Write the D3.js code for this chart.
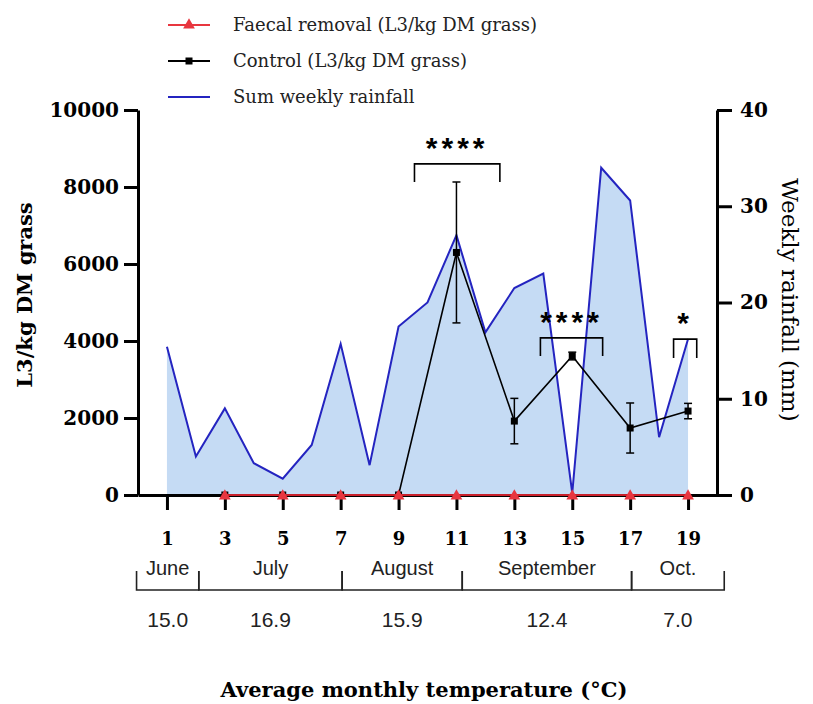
<!DOCTYPE html>
<html>
<head>
<meta charset="utf-8">
<script src="https://cdn.jsdelivr.net/npm/d3@7/dist/d3.min.js"></script>
<style>
body { margin: 0; background: #fff; }
.serif { font-family: "DejaVu Serif", serif; }
.sans { font-family: "Liberation Sans", Arial, sans-serif; }
</style>
</head>
<body>
<div class="main"></div>
<script>
// weekly rainfall, weeks 1..19 (mm)
var rainWeeks = d3.range(1, 20);
var rainfall = [15.4, 4.0, 9.0, 3.3, 1.7, 5.2, 15.7, 3.1, 17.5, 20.0, 27.0, 16.9, 21.5, 23.0, 0.2, 34.0, 30.6, 6.0, 16.2];

// L3 counts, sampled every second week
var sampleWeeks = [3, 5, 7, 9, 11, 13, 15, 17, 19];
var faecal = [0, 0, 0, 0, 0, 0, 0, 0, 0];
var control = [0, 0, 0, 0, 6300, 1920, 3610, 1740, 2180];
var controlErr = [0, 0, 0, 0, 1830, 590, 100, 650, 200];

var xTicks = [1, 3, 5, 7, 9, 11, 13, 15, 17, 19];
var leftTicks = [0, 2000, 4000, 6000, 8000, 10000];
var rightTicks = [0, 10, 20, 30, 40];

// month brackets under the axis (in week units) + average temperatures
var months = ["June", "July", "August", "September", "Oct."];
var monthBounds = [-0.05, 2.1, 7.05, 11.2, 17.05, 20.25];
var monthTemps = ["15.0", "16.9", "15.9", "12.4", "7.0"];

// significance brackets
var sigLabels = ["****", "****", "*"];
var sigFrom = [9.55, 13.9, 18.5];
var sigTo = [12.5, 16.05, 19.3];
var sigTop = [8600, 4080, 4050];
var sigFoot = [8130, 3610, 3560];

var legendLabels = ["Faecal removal (L3/kg DM grass)", "Control (L3/kg DM grass)", "Sum weekly rainfall"];

//canvas config
var margin = {top: 110, right: 96, bottom: 209, left: 138};
var width = 813 - margin.left - margin.right;
var height = 704 - margin.top - margin.bottom;

var red = "#e8363f", blue = "#2424c0", fillBlue = "#c5dbf4";

var svg = d3.select(".main")
	.append("svg")
	.attr("width", 813)
	.attr("height", 704);
var g = svg.append("g")
	.attr("transform", "translate(" + margin.left + "," + margin.top + ")");

var xScale = d3.scaleLinear().domain([0, 20]).range([0, width]);
var yScale = d3.scaleLinear().domain([0, 10000]).range([height, 0]);
var yRain = d3.scaleLinear().domain([0, 40]).range([height, 0]);

//rainfall area + line
var rainData = rainWeeks.map(function(w, i) { return {w: w, v: rainfall[i]}; });
g.append("path")
	.datum(rainData)
	.attr("fill", fillBlue)
	.attr("d", d3.area()
		.x(function(d) { return xScale(d.w); })
		.y0(height)
		.y1(function(d) { return yRain(d.v); }));
g.append("path")
	.datum(rainData)
	.attr("fill", "none")
	.attr("stroke", blue)
	.attr("stroke-width", 2)
	.attr("d", d3.line()
		.x(function(d) { return xScale(d.w); })
		.y(function(d) { return yRain(d.v); }));

//axes
var xAxis = d3.axisBottom(xScale).tickValues(xTicks).tickSize(15).tickSizeOuter(0).tickPadding(22);
var yAxis = d3.axisLeft(yScale).tickValues(leftTicks).tickFormat(d3.format("d")).tickSize(14).tickSizeOuter(0).tickPadding(5);
var yAxisR = d3.axisRight(yRain).tickValues(rightTicks).tickSize(15).tickSizeOuter(0).tickPadding(8);

var gx = g.append("g").attr("transform", "translate(0," + height + ")").call(xAxis);
var gy = g.append("g").call(yAxis);
var gr = g.append("g").attr("transform", "translate(" + width + ",0)").call(yAxisR);
[gx, gy, gr].forEach(function(a) {
	a.selectAll("path, line").attr("stroke", "#000").attr("stroke-width", 3);
	a.selectAll("text").attr("class", "serif").attr("fill", "#000")
		.style("font-weight", "bold").style("font-size", "20px");
});
gx.selectAll("text").style("font-size", "18px");

//control line with error bars
var ctrl = sampleWeeks.map(function(w, i) { return {w: w, v: control[i], e: controlErr[i]}; });
g.append("path")
	.datum(ctrl)
	.attr("fill", "none")
	.attr("stroke", "#000")
	.attr("stroke-width", 1.6)
	.attr("d", d3.line()
		.x(function(d) { return xScale(d.w); })
		.y(function(d) { return yScale(d.v); }));
var eb = g.append("g").selectAll("g")
	.data(ctrl.filter(function(d) { return d.e > 0; }))
	.enter().append("g");
eb.append("line")
	.attr("x1", function(d) { return xScale(d.w); })
	.attr("x2", function(d) { return xScale(d.w); })
	.attr("y1", function(d) { return yScale(d.v + d.e); })
	.attr("y2", function(d) { return yScale(d.v - d.e); })
	.attr("stroke", "#000").attr("stroke-width", 1.5);
[1, -1].forEach(function(s) {
	eb.append("line")
		.attr("x1", function(d) { return xScale(d.w) - 4; })
		.attr("x2", function(d) { return xScale(d.w) + 4; })
		.attr("y1", function(d) { return yScale(d.v + s * d.e); })
		.attr("y2", function(d) { return yScale(d.v + s * d.e); })
		.attr("stroke", "#000").attr("stroke-width", 1.5);
});
g.append("g").selectAll("rect")
	.data(ctrl)
	.enter().append("rect")
	.attr("x", function(d) { return xScale(d.w) - 3.5; })
	.attr("y", function(d) { return yScale(d.v) - 3.5; })
	.attr("width", 7).attr("height", 7)
	.attr("fill", "#000");

//faecal removal line (red, on top)
var fae = sampleWeeks.map(function(w, i) { return {w: w, v: faecal[i]}; });
g.append("path")
	.datum(fae)
	.attr("fill", "none")
	.attr("stroke", "#c8202a")
	.attr("stroke-width", 2)
	.attr("d", d3.line()
		.x(function(d) { return xScale(d.w); })
		.y(function(d) { return yScale(d.v); }));
var tri = d3.symbol().type(d3.symbolTriangle).size(60);
g.append("g").selectAll("path")
	.data(fae)
	.enter().append("path")
	.attr("d", tri)
	.attr("transform", function(d) { return "translate(" + xScale(d.w) + "," + (yScale(d.v) + 1) + ")"; })
	.attr("fill", red);

//significance brackets
sigLabels.forEach(function(lab, i) {
	var x1 = xScale(sigFrom[i]), x2 = xScale(sigTo[i]);
	var yt = yScale(sigTop[i]), yf = yScale(sigFoot[i]);
	g.append("path")
		.attr("d", "M" + x1 + "," + yf + "V" + yt + "H" + x2 + "V" + yf)
		.attr("fill", "none")
		.attr("stroke", "#000")
		.attr("stroke-width", 1.6);
	g.append("text")
		.attr("class", "sans")
		.attr("x", (x1 + x2) / 2)
		.attr("y", yt - 6)
		.attr("text-anchor", "middle")
		.style("font-size", "30px")
		.style("font-weight", "bold")
		.style("letter-spacing", "4px")
		.text(lab);
});

//month brackets and temperatures
var bracketY = height + 95, bracketUp = 19;
months.forEach(function(m, i) {
	var x1 = xScale(monthBounds[i]), x2 = xScale(monthBounds[i + 1]);
	g.append("path")
		.attr("d", "M" + x1 + "," + (bracketY - bracketUp) + "V" + bracketY + "H" + x2 + "V" + (bracketY - bracketUp))
		.attr("fill", "none")
		.attr("stroke", "#222")
		.attr("stroke-width", 1.6);
	g.append("text")
		.attr("class", "sans")
		.attr("x", (x1 + x2) / 2)
		.attr("y", bracketY - 15)
		.attr("text-anchor", "middle")
		.style("font-size", "20px")
		.attr("fill", "#222")
		.text(m);
	g.append("text")
		.attr("class", "sans")
		.attr("x", (x1 + x2) / 2)
		.attr("y", bracketY + 37)
		.attr("text-anchor", "middle")
		.style("font-size", "21px")
		.attr("fill", "#222")
		.text(monthTemps[i]);
});

//axis titles
svg.append("text")
	.attr("class", "serif")
	.attr("x", 424).attr("y", 697)
	.attr("text-anchor", "middle")
	.style("font-size", "21px").style("font-weight", "bold")
	.text("Average monthly temperature (\u00B0C)");
svg.append("text")
	.attr("class", "serif")
	.attr("transform", "translate(32,295) rotate(-90)")
	.attr("text-anchor", "middle")
	.style("font-size", "21px").style("font-weight", "bold")
	.text("L3/kg DM grass");
svg.append("text")
	.attr("class", "serif")
	.attr("transform", "translate(782,300) rotate(90)")
	.attr("text-anchor", "middle")
	.style("font-size", "23px")
	.text("Weekly rainfall (mm)");

//legend
var leg = svg.append("g").selectAll("g")
	.data(legendLabels)
	.enter().append("g")
	.attr("transform", function(d, i) { return "translate(168," + [25, 61, 97][i] + ")"; });
leg.append("line")
	.attr("x1", 0).attr("x2", 42)
	.attr("stroke", function(d, i) { return [red, "#000", blue][i]; })
	.attr("stroke-width", 2);
leg.append("text")
	.attr("class", "serif")
	.attr("x", 65).attr("dy", "0.35em")
	.style("font-size", "18px")
	.attr("fill", "#222")
	.text(function(d) { return d; });
leg.filter(function(d, i) { return i == 0; }).append("path")
	.attr("d", tri).attr("transform", "translate(21,0)").attr("fill", red);
leg.filter(function(d, i) { return i == 1; }).append("rect")
	.attr("x", 17.5).attr("y", -3.5).attr("width", 7).attr("height", 7).attr("fill", "#000");
</script>
</body>
</html>
